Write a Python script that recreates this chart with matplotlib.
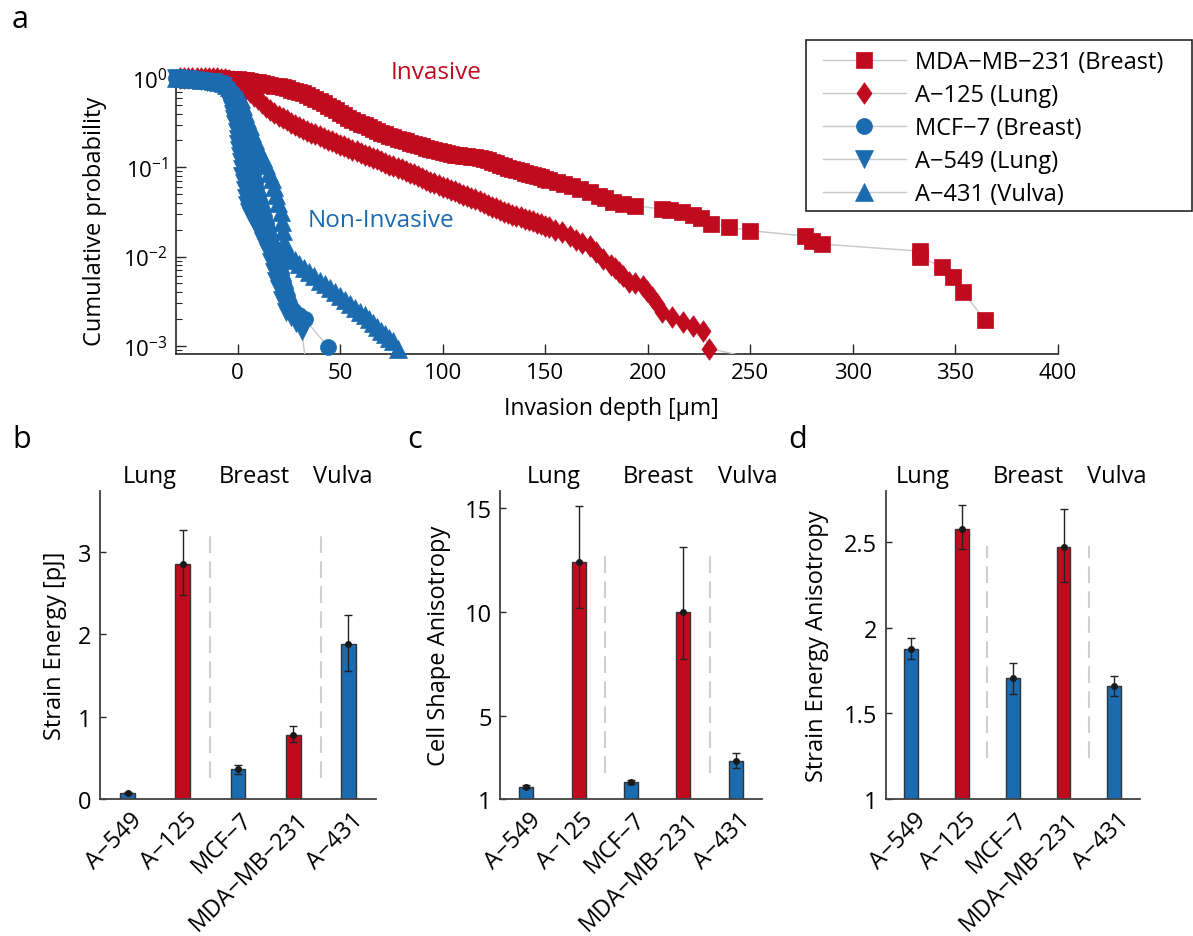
import numpy as np
import matplotlib
matplotlib.use('Agg')
import matplotlib.pyplot as plt
from matplotlib.path import Path
from matplotlib.lines import Line2D
from matplotlib.patches import Rectangle
from matplotlib.transforms import ScaledTranslation

plt.rcParams['font.family'] = ['Open Sans', 'DejaVu Sans']
plt.rcParams['mathtext.fontset'] = 'custom'
plt.rcParams['mathtext.rm'] = 'Open Sans'
plt.rcParams['mathtext.it'] = 'Open Sans:italic'
plt.rcParams['mathtext.bf'] = 'Open Sans:bold'
plt.rcParams['mathtext.default'] = 'regular'

# ---------------- data: panel a (survival curves) ----------------
mda_x = [-28, -26, -24, -22, -20, -18, -16, -14, -12, -10, -8, -6, -4, -2, 0, 2, 4, 6, 8, 10,
         12, 14, 16, 18, 20, 22, 24, 26, 28, 30, 32, 34, 36, 38, 40, 42, 44, 46, 48, 50,
         52, 54, 56, 58, 60, 62, 64, 66, 68, 70, 72, 74, 76, 78, 80, 82, 84, 86, 88, 90,
         92, 94, 96, 98, 100, 102, 104, 106, 108, 110, 112, 114, 116, 118, 120, 122, 124, 126, 128, 130,
         132, 134, 136, 138, 140, 142, 144, 146, 148, 150, 152,
         155.6, 159, 163, 167, 172, 176, 179, 183, 188, 194, 207, 211, 216.5, 222, 226, 231, 239.5,
         250, 276.6, 280, 285, 332.7, 332.7, 343.4, 348.8, 353.7, 364.4]
mda_p = [1, 1, 1, 1, 1, 1, 1, 1, 1, 1, 0.993, 0.986, 0.977, 0.970, 0.964, 0.955, 0.940, 0.927, 0.912, 0.898,
         0.881, 0.861, 0.841, 0.822, 0.804, 0.785, 0.764, 0.741, 0.719, 0.697, 0.676, 0.646, 0.617, 0.589, 0.553, 0.521, 0.490, 0.460, 0.434, 0.407,
         0.383, 0.361, 0.339, 0.324, 0.309, 0.295, 0.282, 0.269, 0.257, 0.245, 0.234, 0.224, 0.217, 0.210, 0.204, 0.196, 0.189, 0.182, 0.177, 0.171,
         0.166, 0.161, 0.156, 0.151, 0.148, 0.145, 0.141, 0.139, 0.137, 0.135, 0.133, 0.131, 0.129, 0.126, 0.123, 0.120, 0.116, 0.111, 0.107, 0.103,
         0.0993, 0.0955, 0.0927, 0.0897, 0.0871, 0.0845, 0.0818, 0.0794, 0.0771, 0.0746, 0.0724,
         0.0684, 0.0646, 0.0617, 0.0575, 0.0525, 0.0479, 0.0447, 0.0407, 0.0389, 0.0372, 0.0339, 0.0331, 0.0316, 0.0295, 0.0269, 0.0234, 0.0214,
         0.0195, 0.0170, 0.0148, 0.0138, 0.0115, 0.0100, 0.00759, 0.00589, 0.00398, 0.00195]

a125_x = [-28, -26, -24, -22, -20, -18, -16, -14, -12, -10, -8, -6, -4, -2, 0, 2, 4, 6, 8, 10,
          12, 14, 16, 18, 20, 22, 24, 26, 28, 30, 32, 34, 36, 38, 40, 42, 44, 46, 48, 50,
          52, 54, 56, 58, 60, 62, 64, 66, 68, 70, 72, 74, 76, 78, 80, 82, 84, 86, 88, 90,
          92, 94, 96, 98, 100, 102, 104, 106, 108, 110, 112, 114, 116, 118, 120, 122, 124, 126, 128, 130,
          132, 134, 136, 138, 140, 142, 144, 146, 148, 150, 152,
          155, 158, 162, 165, 168, 171.7, 175, 178, 182, 184, 186, 188, 191, 194, 197.6, 199.8, 202, 204.5,
          207, 212, 217, 222, 226.8, 230, 289]
a125_p = [1, 1, 1, 1, 1, 1, 1, 1, 1, 1, 0.984, 0.970, 0.955, 0.927, 0.885, 0.832, 0.759, 0.692, 0.631, 0.575,
          0.525, 0.479, 0.437, 0.405, 0.380, 0.357, 0.337, 0.316, 0.300, 0.284, 0.269, 0.257, 0.245, 0.234, 0.224, 0.214, 0.204, 0.195, 0.186, 0.178,
          0.171, 0.165, 0.158, 0.151, 0.145, 0.138, 0.133, 0.128, 0.123, 0.117, 0.112, 0.107, 0.103, 0.0993, 0.0955, 0.0912, 0.0871, 0.0832, 0.0794, 0.0759,
          0.0724, 0.0692, 0.0661, 0.0631, 0.0607, 0.0585, 0.0562, 0.0537, 0.0513, 0.0490, 0.0471, 0.0454, 0.0437, 0.0417, 0.0398, 0.0380, 0.0363, 0.0347, 0.0331, 0.0318,
          0.0307, 0.0295, 0.0284, 0.0274, 0.0263, 0.0255, 0.0247, 0.0240, 0.0231, 0.0222, 0.0214,
          0.0200, 0.0186, 0.0170, 0.0155, 0.0141, 0.0132, 0.0112, 0.00933, 0.00794, 0.00741, 0.00676, 0.00603, 0.00525, 0.00501, 0.00468, 0.00407, 0.00355, 0.00295,
          0.00240, 0.00209, 0.00186, 0.00166, 0.00148, 0.000933, 0.000468]

mcf7_x = [-30, -26, -22, -18, -14, -10, -7, -5, -3.5, -2,
          -1, 0, 1, 2, 2.8, 3.6, 4.4, 5.2, 6, 6.8, 7.6, 8.4, 9.2, 10, 11, 12, 13, 14, 15, 16, 17, 18, 19, 20,
          21, 22, 23, 24, 25, 27, 30, 32.7, 44]
mcf7_p = [1.0, 0.977, 0.955, 0.933, 0.912, 0.891, 0.851, 0.794, 0.708, 0.617,
          0.525, 0.437, 0.363, 0.302, 0.251, 0.209, 0.174, 0.145, 0.120, 0.100, 0.0832, 0.0692, 0.0575, 0.0479, 0.0398, 0.0331, 0.0275, 0.0229, 0.0191, 0.0158, 0.0132, 0.0110, 0.00912, 0.00759,
          0.00631, 0.00525, 0.00437, 0.00363, 0.00302, 0.00251, 0.00219, 0.00200, 0.000977]

a549_x = [-30, -27, -24, -21, -18, -15, -12, -9, -7, -5.5,
          -4.4, -3.5, -2.8, -2, -1.5, -1, -0.5, 0, 0.4, 0.8, 1.2, 1.6, 2, 2.4, 3, 3.6, 4.2, 4.8, 5.4,
          6.6, 7.8, 9, 10.2, 11.4, 12.6, 13.8, 15, 16.3, 17.6, 18.8, 20, 21.7, 23.4, 26, 28.5, 31.2, 34]
a549_p = [1.0, 0.977, 0.966, 0.955, 0.933, 0.912, 0.891, 0.861, 0.813, 0.708,
          0.582, 0.513, 0.447, 0.398, 0.347, 0.302, 0.251, 0.209, 0.182, 0.158, 0.135, 0.115, 0.0955, 0.0794, 0.0661, 0.0550, 0.0457, 0.0380, 0.0316,
          0.0282, 0.0251, 0.0224, 0.0204, 0.0174, 0.0151, 0.0129, 0.0112, 0.00871, 0.00676, 0.00537, 0.00437, 0.00324, 0.00240, 0.00209, 0.00182, 0.00148, 0.000501]

a431_x = [-30, -27, -24, -21, -18, -15, -12, -9.5, -7.3,
          -5.5, -4, -2.5, -1, 0.3, 1.5, 2.6, 3.7, 4.8, 5.9, 7.1, 8.3, 9.5, 10.7, 12.2, 13.7, 15.2, 16.6,
          17.7, 18.8, 19.9, 21, 21.6, 22.2, 22.8, 23.4, 26, 28, 30, 32.5, 35, 37.5, 40, 42.5, 45, 47.5, 50,
          52.5, 55, 57.5, 59.5, 62, 64, 66, 68, 70, 72, 74, 75.6, 78]
a431_p = [1.0, 0.989, 0.977, 0.966, 0.955, 0.944, 0.933, 0.912, 0.871,
          0.832, 0.794, 0.741, 0.676, 0.631, 0.582, 0.490, 0.407, 0.347, 0.288, 0.245, 0.204, 0.174, 0.148, 0.126, 0.105, 0.0871, 0.0741,
          0.0603, 0.0490, 0.0398, 0.0316, 0.0245, 0.0191, 0.0145, 0.0112, 0.0100, 0.00912, 0.00832, 0.00741, 0.00676, 0.00603, 0.00537, 0.00490, 0.00447, 0.00398, 0.00363,
          0.00324, 0.00295, 0.00263, 0.00240, 0.00219, 0.00200, 0.00178, 0.00162, 0.00148, 0.00135, 0.00123, 0.00112, 0.000933]

series_labels = ['MDA\u2212MB\u2212231 (Breast)', 'A\u2212125 (Lung)', 'MCF\u22127 (Breast)',
                 'A\u2212549 (Lung)', 'A\u2212431 (Vulva)']

# ---------------- data: panels b, c, d (bars) ----------------
cell_lines = ['A\u2212549', 'A\u2212125', 'MCF\u22127', 'MDA\u2212MB\u2212231', 'A\u2212431']
invasive = [False, True, False, True, False]
groups = ['Lung', 'Breast', 'Vulva']

strain_energy = [0.07, 2.85, 0.36, 0.78, 1.88]
strain_energy_lo = [0.015, 0.37, 0.06, 0.09, 0.32]
strain_energy_hi = [0.015, 0.42, 0.05, 0.11, 0.36]

shape_aniso = [1.6, 12.38, 1.82, 10.0, 2.81]
shape_aniso_lo = [0.05, 2.2, 0.12, 2.27, 0.33]
shape_aniso_hi = [0.05, 2.68, 0.1, 3.1, 0.39]

energy_aniso = [1.876, 2.576, 1.706, 2.47, 1.658]
energy_aniso_lo = [0.056, 0.116, 0.093, 0.2, 0.055]
energy_aniso_hi = [0.064, 0.14, 0.088, 0.227, 0.058]

# ---------------- styles ----------------
RED = '#C00B1F'
BLUE = '#1B6BB0'
DARK = '#262626'
LINEGRAY = '#c8c8c8'
W, H = 1193, 937

diamond = Path([(0, 1), (0.7, 0), (0, -1), (-0.7, 0), (0, 1)],
               [Path.MOVETO, Path.LINETO, Path.LINETO, Path.LINETO, Path.CLOSEPOLY])

fig = plt.figure(figsize=(W / 100, H / 100), dpi=100)

# ---------------- panel a ----------------
ax = fig.add_axes([176 / W, 1 - 355 / H, (1058 - 176) / W, (355 - 79) / H])
ax.set_yscale('log')
ylo = 8.1e-4
ax.set_xlim(-30, 400)
ax.set_ylim(ylo, 1)

series = [
    (mda_x, mda_p, 's', 11.5, RED),
    (a125_x, a125_p, diamond, 15.5, RED),
    (mcf7_x, mcf7_p, 'o', 11.5, BLUE),
    (a549_x, a549_p, 'v', 13, BLUE),
    (a431_x, a431_p, '^', 13, BLUE),
]
handles = []
for i, (xs, ps, mk, ms, col) in enumerate(series):
    xs = np.asarray(xs, float)
    ps = np.asarray(ps, float)
    ax.plot(xs, ps, '-', color=LINEGRAY, lw=1, zorder=2 + 2 * i)
    m = ps >= ylo
    ax.plot(xs[m], ps[m], ls='none', marker=mk, ms=ms, mfc=col, mec=col, mew=0.5,
            clip_on=False, zorder=3 + 2 * i)
    handles.append(Line2D([], [], color=LINEGRAY, lw=1, marker=mk, ms=ms, mfc=col, mec=col, mew=0.5))

ax.set_xticks(np.arange(0, 401, 50))
ax.set_yticks([1e-3, 1e-2, 1e-1, 1])
for s in ['top', 'right']:
    ax.spines[s].set_visible(False)
for s in ['left', 'bottom']:
    ax.spines[s].set_color(DARK)
    ax.spines[s].set_linewidth(1.2)
ax.tick_params(which='major', direction='in', length=7, width=1, color=DARK, labelsize=16, pad=6)
ax.tick_params(which='minor', direction='in', length=4, width=0.8, color=DARK)
ax.set_xlabel('Invasion depth [\u00b5m]', fontsize=16.5)
ax.xaxis.set_label_coords(0.494, -0.152)
ax.set_ylabel('Cumulative probability', fontsize=17)
ax.yaxis.set_label_coords(-0.078, 0.485)
ax.text(96.6, 1.17, 'Invasive', color=RED, fontsize=17.5, ha='center', va='center')
ax.text(34, 0.0257, 'Non-Invasive', color=BLUE, fontsize=17.5, ha='left', va='center')

# legend: frame drawn at the reference position, entries placed inside
fig.patches.append(Rectangle((806 / W, 1 - 212 / H), 386 / W, 171 / H, transform=fig.transFigure,
                             fill=False, edgecolor=DARK, lw=1.2, zorder=10))
fig.legend(handles, series_labels, loc='upper left',
           bbox_to_anchor=(823 / W, 1 - 51 / H), bbox_transform=fig.transFigure,
           frameon=False, fontsize=17, handlelength=3.5, handletextpad=0.38,
           labelspacing=0.38, borderpad=0, borderaxespad=0, numpoints=1)


# ---------------- bar panels ----------------
def bar_panel(left, width, vals, lo, hi, ylim, yticks, yticklabels, ylabel, ylab_x, dash_y, grp_x):
    bx = fig.add_axes([left / W, 1 - 800 / H, width / W, 308 / H])
    pos = np.arange(1, len(vals) + 1)
    cols = [RED if inv else BLUE for inv in invasive]
    bx.bar(pos, vals, width=0.27, color=cols, edgecolor='#333333', linewidth=1, zorder=2)
    bx.errorbar(pos, vals, yerr=[lo, hi], fmt='o', ms=4, color='#1a1a1a', ecolor='#222222',
                elinewidth=1, capsize=3, capthick=1, zorder=3)
    bx.vlines([2.5, 4.5], dash_y[0], dash_y[1], colors='#cfcfcf', linestyles=(0, (8, 4)),
              lw=1.5, zorder=1)
    bx.set_xlim(0.5, 5.5)
    bx.set_ylim(*ylim)
    bx.set_yticks(yticks)
    bx.set_yticklabels(yticklabels)
    bx.set_xticks(pos)
    for s in ['top', 'right']:
        bx.spines[s].set_visible(False)
    for s in ['left', 'bottom']:
        bx.spines[s].set_color('#404040')
        bx.spines[s].set_linewidth(1.3)
    bx.tick_params(axis='y', direction='in', length=4, width=1, color=DARK, labelsize=17, pad=6)
    bx.tick_params(axis='x', length=0, labelsize=17, pad=12)
    bx.set_xticklabels(cell_lines, rotation=45, ha='right', va='center', rotation_mode='anchor')
    off = ScaledTranslation(0.11, 0, fig.dpi_scale_trans)
    for lab in bx.get_xticklabels():
        lab.set_transform(lab.get_transform() + off)
    bx.set_ylabel(ylabel, fontsize=17)
    bx.yaxis.set_label_coords(ylab_x, 0.5)
    for g, gx in zip(groups, grp_x):
        bx.text(gx, 1.049, g, transform=bx.transAxes, fontsize=17, ha='center', va='center')
    return bx


bar_panel(100, 276, strain_energy, strain_energy_lo, strain_energy_hi, (0, 3.74),
          [0, 1, 2, 3], ['0', '1', '2', '3'], 'Strain Energy [pJ]', -0.120, (0.25, 3.2),
          [0.18, 0.558, 0.88])
bar_panel(500, 262, shape_aniso, shape_aniso_lo, shape_aniso_hi, (1, 15.8),
          [1, 5, 10, 15], ['1', '5', '10', '15'], 'Cell Shape Anisotropy', -0.187, (2.24, 12.86),
          [0.206, 0.603, 0.947])
bar_panel(885.7, 254, energy_aniso, energy_aniso_lo, energy_aniso_hi, (1, 2.8),
          [1, 1.5, 2, 2.5], ['1', '1.5', '2', '2.5'], 'Strain Energy Anisotropy', -0.223, (1.24, 2.48),
          [0.147, 0.56, 0.91])

for letter, px, py in [('a', 20, 20), ('b', 22, 440), ('c', 415, 440), ('d', 798, 440)]:
    fig.text(px / W, 1 - py / H, letter, fontsize=22, ha='center', va='center')

fig.savefig('out.png', dpi=100)
